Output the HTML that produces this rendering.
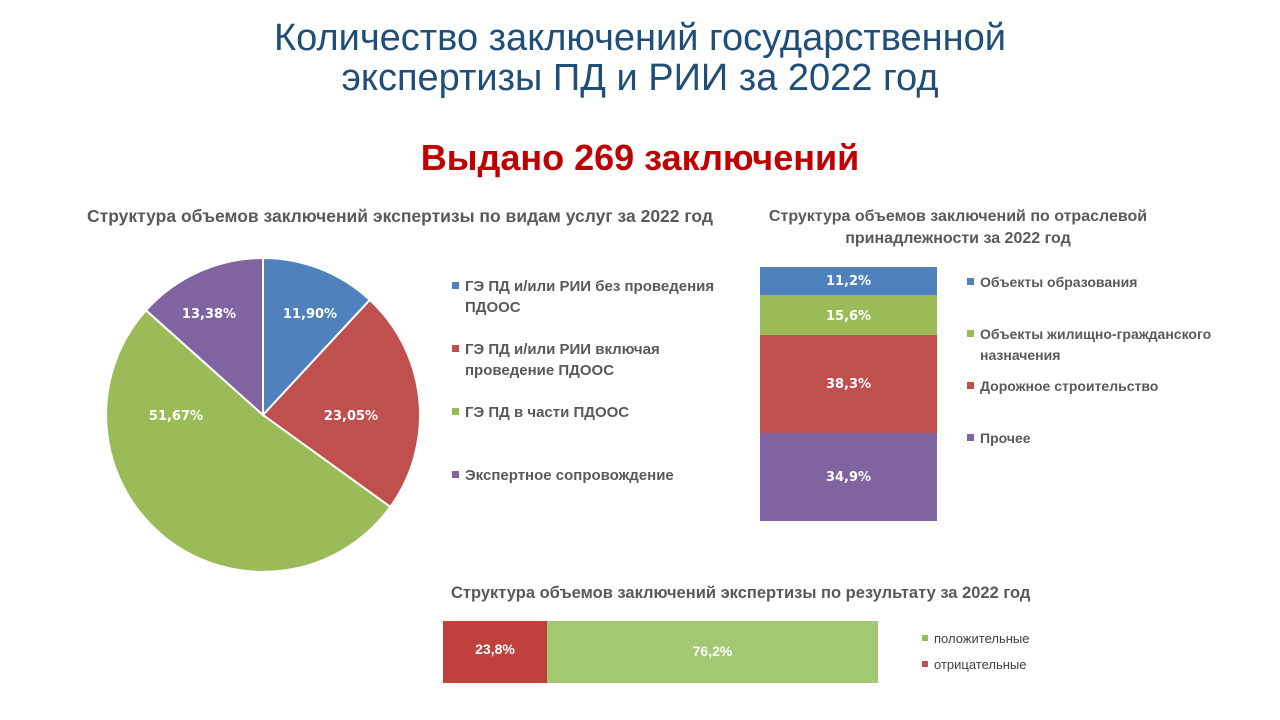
<!DOCTYPE html>
<html><head><meta charset="utf-8"><style>
body{margin:0;width:1280px;height:720px;background:#fff;position:relative;overflow:hidden;font-family:"Liberation Sans",sans-serif}
.a{position:absolute;white-space:nowrap}
.t{left:0;width:1280px;text-align:center;color:#1f4e79;font-size:38px;line-height:40px}
.h{font-weight:bold;color:#595959;font-size:16px}
.l{font-weight:bold;color:#595959;font-size:15px;line-height:21px}
.sq{display:inline-block;width:7px;height:7px;margin-right:6px;vertical-align:middle;position:relative;top:-2px}
.bl{font-family:"DejaVu Sans",sans-serif;font-weight:bold;color:#fff;font-size:13px;text-align:center}
</style></head><body>
<div class="a t" style="top:18px">Количество заключений государственной</div>
<div class="a t" style="top:58px">экспертизы ПД и РИИ за 2022 год</div>
<div class="a" style="left:0;width:1280px;text-align:center;top:137px;font-size:36px;font-weight:bold;color:#c00000">Выдано 269 заключений</div>
<div class="a h" style="left:87px;top:206px;font-size:17.5px">Структура объемов заключений экспертизы по видам услуг за 2022 год</div>
<svg class="a" style="left:0;top:0" width="1280" height="720">
<g stroke="#fff" stroke-width="2">
<path d="M263,415 L263,258 A157,157 0 0 1 369.8,299.9 Z" fill="#4f81bd"/>
<path d="M263,415 L369.8,299.9 A157,157 0 0 1 390.3,506.9 Z" fill="#c0504d"/>
<path d="M263,415 L390.3,506.9 A157,157 0 1 1 146,310.3 Z" fill="#9bbb59"/>
<path d="M263,415 L146,310.3 A157,157 0 0 1 263,258 Z" fill="#8064a2"/>
</g>
<g font-family="DejaVu Sans" font-weight="bold" font-size="13" fill="#fff" text-anchor="middle">
<text x="310" y="318">11,90%</text>
<text x="351" y="420">23,05%</text>
<text x="176" y="420">51,67%</text>
<text x="209" y="318">13,38%</text>
</g>
<rect x="760" y="267" width="177" height="28" fill="#4f81bd"/>
<rect x="760" y="295" width="177" height="40" fill="#9bbb59"/>
<rect x="760" y="335" width="177" height="98" fill="#c0504d"/>
<rect x="760" y="433" width="177" height="88" fill="#8064a2"/>
<rect x="443" y="621" width="104" height="62" fill="#c0403d"/>
<rect x="547" y="621" width="331" height="62" fill="#a3c872"/>
</svg>
<div class="a l" style="left:452px;top:276px"><span class="sq" style="background:#4f81bd"></span>ГЭ ПД и/или РИИ без проведения<br><span style="margin-left:13px">ПДООС</span></div>
<div class="a l" style="left:452px;top:339px"><span class="sq" style="background:#c0504d"></span>ГЭ ПД и/или РИИ включая<br><span style="margin-left:13px">проведение ПДООС</span></div>
<div class="a l" style="left:452px;top:402px"><span class="sq" style="background:#9bbb59"></span>ГЭ ПД в части ПДООС</div>
<div class="a l" style="left:452px;top:465px"><span class="sq" style="background:#8064a2"></span>Экспертное сопровождение</div>
<div class="a h" style="left:718px;top:206px;width:480px;text-align:center;line-height:22px">Структура объемов заключений по отраслевой<br>принадлежности за 2022 год</div>
<div class="a bl" style="left:760px;width:177px;top:274px">11,2%</div>
<div class="a bl" style="left:760px;width:177px;top:309px">15,6%</div>
<div class="a bl" style="left:760px;width:177px;top:377px">38,3%</div>
<div class="a bl" style="left:760px;width:177px;top:470px">34,9%</div>
<div class="a l" style="left:967px;top:272px;font-size:14px"><span class="sq" style="background:#4f81bd"></span>Объекты образования</div>
<div class="a l" style="left:967px;top:324px;font-size:14px"><span class="sq" style="background:#9bbb59"></span>Объекты жилищно-гражданского<br><span style="margin-left:13px">назначения</span></div>
<div class="a l" style="left:967px;top:376px;font-size:14px"><span class="sq" style="background:#c0504d"></span>Дорожное строительство</div>
<div class="a l" style="left:967px;top:428px;font-size:14px"><span class="sq" style="background:#8064a2"></span>Прочее</div>
<div class="a h" style="left:451px;top:584px;font-size:16.5px">Структура объемов заключений экспертизы по результату за 2022 год</div>
<div class="a" style="left:443px;width:104px;top:641px;text-align:center;color:#fff;font-weight:bold;font-size:14px">23,8%</div>
<div class="a" style="left:547px;width:331px;top:643px;text-align:center;color:#fff;font-weight:bold;font-size:14px">76,2%</div>
<div class="a l" style="left:922px;top:628px;font-size:13px;font-weight:normal;color:#404040"><span class="sq" style="background:#9bbb59;width:6px;height:6px"></span>положительные</div>
<div class="a l" style="left:922px;top:654px;font-size:13px;font-weight:normal;color:#404040"><span class="sq" style="background:#c0504d;width:6px;height:6px"></span>отрицательные</div>
</body></html>
